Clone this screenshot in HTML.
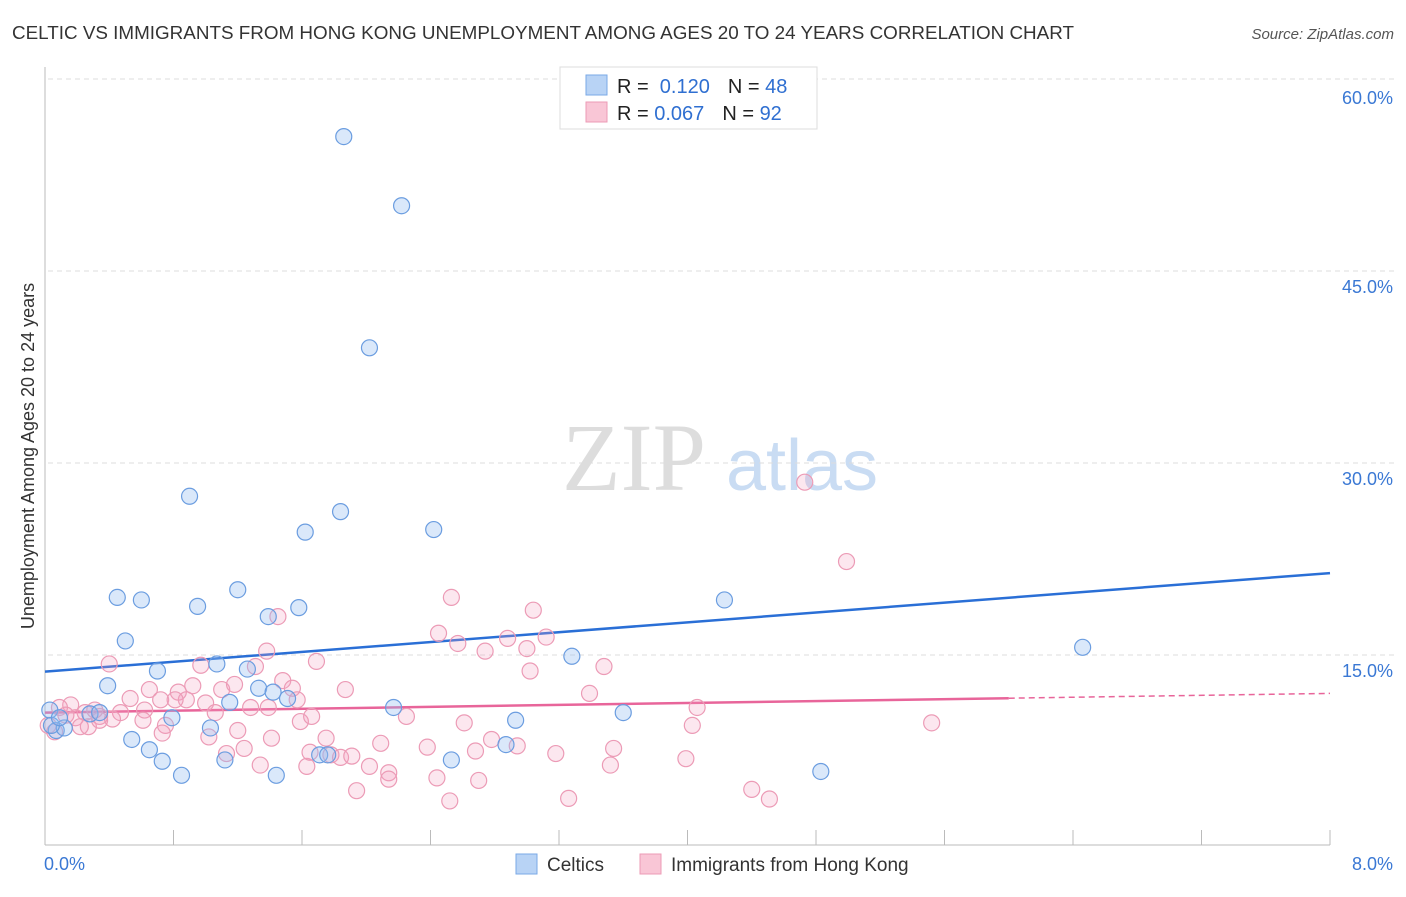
<!DOCTYPE html>
<html><head><meta charset="utf-8"><style>
body{margin:0;background:#fff;width:1406px;height:892px;overflow:hidden;font-family:"Liberation Sans",sans-serif}
</style></head><body>
<svg id="chart" width="1406" height="892" xmlns="http://www.w3.org/2000/svg">
<text x="12" y="39" font-size="18" fill="#333" textLength="1062" lengthAdjust="spacingAndGlyphs">CELTIC VS IMMIGRANTS FROM HONG KONG UNEMPLOYMENT AMONG AGES 20 TO 24 YEARS CORRELATION CHART</text>
<text x="1394" y="39" font-size="15" fill="#555" font-style="italic" text-anchor="end">Source: ZipAtlas.com</text>
<text x="34" y="456" font-size="18" fill="#333" text-anchor="middle" transform="rotate(-90 34 456)">Unemployment Among Ages 20 to 24 years</text>
<g><text x="634" y="490" font-size="96" font-family="Liberation Serif,serif" fill="#ddd" text-anchor="middle">ZIP</text><text x="802" y="490" font-size="72" fill="#c9dcf3" text-anchor="middle">atlas</text></g>
<g id="grid"></g><g id="axes"></g><g id="trends"></g><g id="pts"></g>
<g>
<rect x="560" y="67" width="257" height="62" fill="#fff" stroke="#ddd"/>
<rect x="586" y="75" width="21" height="20" fill="#b8d3f5" stroke="#7aa8e6"/>
<rect x="586" y="102" width="21" height="20" fill="#f9c6d6" stroke="#ec9bb6"/>
<text x="617" y="93" font-size="20" fill="#222">R = <tspan fill="#2f6fd1">&#160;0.120</tspan><tspan dx="18">N = </tspan><tspan fill="#2f6fd1">48</tspan></text>
<text x="617" y="120" font-size="20" fill="#222">R = <tspan fill="#2f6fd1">0.067</tspan><tspan dx="18">N = </tspan><tspan fill="#2f6fd1">92</tspan></text>
</g>
<g>
<rect x="516" y="854" width="21" height="20" fill="#b8d3f5" stroke="#7aa8e6"/>
<text x="547" y="871" font-size="19" fill="#333">Celtics</text>
<rect x="640" y="854" width="21" height="20" fill="#f9c6d6" stroke="#ec9bb6"/>
<text x="671" y="871" font-size="19" fill="#333">Immigrants from Hong Kong</text>
</g>
</svg>
<script>
const yTicks=[15,30,45,60];
const yTickLabels=["15.0%","30.0%","45.0%","60.0%"];
const xTickCount=10;
const xLabels=["0.0%","8.0%"];
const blueX=[1.86,2.22,2.02,0.90,1.84,1.62,2.42,0.45,0.60,0.95,1.20,1.39,1.58,0.50,0.70,1.07,1.26,0.39,1.33,1.42,1.51,2.17,1.15,0.79,1.03,0.03,0.07,0.12,0.28,0.34,0.54,0.65,0.73,0.85,1.12,1.44,1.71,1.76,2.53,2.87,2.93,3.28,3.60,4.23,4.83,6.46,0.04,0.09];
const blueY=[55.5,50.1,39.0,27.4,26.2,24.6,24.8,19.5,19.3,18.8,20.1,18.0,18.7,16.1,13.75,14.3,13.9,12.6,12.4,12.1,11.6,10.9,11.3,10.1,9.3,10.7,9.1,9.3,10.4,10.5,8.4,7.6,6.7,5.6,6.8,5.6,7.2,7.2,6.8,8.0,9.9,14.9,10.5,19.3,5.9,15.6,9.5,10.1];
const pinkX=[4.73,4.99,2.53,3.04,1.45,2.45,2.88,3.12,2.57,2.74,3.00,1.38,0.40,0.97,1.31,1.69,3.48,3.02,0.65,0.83,0.92,1.10,1.48,1.54,1.87,3.39,0.53,0.72,0.88,1.00,1.18,1.28,1.57,1.39,0.16,0.25,0.47,0.62,0.34,0.42,0.09,0.19,0.02,0.06,0.27,0.34,0.61,0.75,1.06,1.59,1.66,2.25,2.61,4.06,4.03,5.52,1.02,1.20,1.41,1.75,2.09,2.38,2.78,2.94,2.68,3.18,3.54,3.99,1.24,1.34,1.63,1.65,1.78,1.84,1.91,2.02,2.14,2.14,2.44,2.70,2.52,1.94,3.26,3.52,4.40,4.51,1.13,0.73,0.22,0.13,0.31,0.81];
const pinkY=[28.5,22.3,19.5,18.5,18.0,16.7,16.3,16.4,15.9,15.3,15.5,15.3,14.3,14.2,14.1,14.5,14.1,13.75,12.3,12.1,12.6,12.3,13.0,12.4,12.3,12.0,11.6,11.5,11.5,11.25,12.7,10.9,11.5,10.9,11.1,10.5,10.5,10.7,10.2,10.0,10.9,10.1,9.5,9.0,9.4,9.9,9.9,9.5,10.5,9.8,10.2,10.2,9.7,10.9,9.5,9.7,8.6,9.1,8.5,8.5,8.1,7.8,8.4,7.9,7.5,7.3,7.7,6.9,7.7,6.4,6.3,7.4,7.2,7.0,7.1,6.3,5.8,5.3,5.4,5.2,3.6,4.4,3.8,6.4,4.5,3.75,7.3,8.9,9.4,10.3,10.7,11.5];
const blueTrend=[13.7,21.4];
const pinkTrend=[10.5,12.0];
const pinkSolidEnd=6.0;

const X0=45,X1=1330,Y0=847,PPY=12.8;
const xs=v=>X0+v/8*(X1-X0);
const ys=v=>Y0-v*PPY;
const NS="http://www.w3.org/2000/svg";
function mk(tag,attrs,parent){const e=document.createElementNS(NS,tag);for(const k in attrs)e.setAttribute(k,attrs[k]);document.getElementById(parent).appendChild(e);return e;}

mk('line',{x1:48,x2:1394,y1:79,y2:79,stroke:'#ddd','stroke-dasharray':'5,4'},'grid');
yTicks.forEach((t,i)=>{
 const g=mk('line',{x1:48,x2:1394,y1:ys(t),y2:ys(t),stroke:'#ddd','stroke-dasharray':'5,4'},'grid');
 
 
 const l=mk('text',{x:1393,y:ys(t)+22,'font-size':18,fill:'#3a78d4','text-anchor':'end'},'grid');
 l.textContent=yTickLabels[i];
 
 
});
const gridLabels=document.querySelectorAll('#grid text');
gridLabels[gridLabels.length-1].setAttribute('y',104);
mk('line',{x1:X0,x2:X0,y1:67,y2:845,stroke:'#bbb'},'axes');
mk('line',{x1:X0,x2:X1,y1:845,y2:845,stroke:'#bbb'},'axes');
for(let i=0;i<=xTickCount;i++){
 const x=xs(i*8/xTickCount);
 const t=mk('line',{x1:x,x2:x,y1:830,y2:845,stroke:'#bbb'},'axes');
 
 
}
const xl0=mk('text',{x:44,y:870,'font-size':18,fill:'#3a78d4'},'axes');xl0.textContent=xLabels[0];


const xl1=mk('text',{x:1393,y:870,'font-size':18,fill:'#3a78d4','text-anchor':'end'},'axes');xl1.textContent=xLabels[1];



pinkX.forEach((v,i)=>{
 const c=mk('circle',{cx:xs(v),cy:ys(pinkY[i]),r:8,fill:'rgba(244,160,190,0.25)',stroke:'#ec9bb6','stroke-width':1.2},'pts');
 
 
});
blueX.forEach((v,i)=>{
 const c=mk('circle',{cx:xs(v),cy:ys(blueY[i]),r:8,fill:'rgba(150,190,240,0.35)',stroke:'#6b9de0','stroke-width':1.2},'pts');
 
 
});
const bt=mk('line',{x1:xs(0),y1:ys(blueTrend[0]),x2:xs(8),y2:ys(blueTrend[1]),stroke:'#2a6fd6','stroke-width':2.5},'trends');


const pm=pinkTrend[0]+(pinkTrend[1]-pinkTrend[0])*pinkSolidEnd/8;
const pt=mk('line',{x1:xs(0),y1:ys(pinkTrend[0]),x2:xs(pinkSolidEnd),y2:ys(pm),stroke:'#e8659a','stroke-width':2.5},'trends');


const pd=mk('line',{x1:xs(pinkSolidEnd),y1:ys(pm),x2:xs(8),y2:ys(pinkTrend[1]),stroke:'#e8659a','stroke-width':1.5,'stroke-dasharray':'6,4'},'trends');


</script>
</body></html>
